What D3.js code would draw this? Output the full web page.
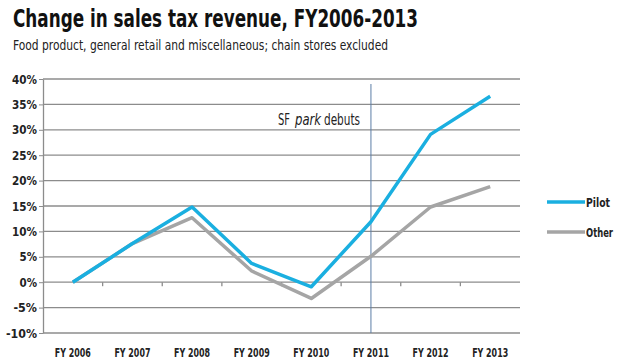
<!DOCTYPE html>
<html><head><meta charset="utf-8">
<script src="https://cdn.jsdelivr.net/npm/d3@7"></script>
<style>
body{margin:0;background:#fff;}
text{font-family:"DejaVu Sans Condensed","Liberation Sans Narrow",sans-serif;}
</style></head>
<body><svg id="c" width="620" height="362"></svg>
<script>
const categories = ["FY 2006","FY 2007","FY 2008","FY 2009","FY 2010","FY 2011","FY 2012","FY 2013"];
const pilot = [0, 7.6, 14.8, 3.7, -0.9, 11.9, 29.1, 36.6];
const other = [0, 7.6, 12.7, 2.2, -3.2, 5.1, 14.8, 18.8];
const yTicks = [-10,-5,0,5,10,15,20,25,30,35,40];
const seriesNames = ["Pilot","Other"];
const colors = ["#1aafe0","#a5a5a5"];
const markerCategory = "FY 2011";

const svg = d3.select("#c");
const L = 43, R = 520, T = 79, B = 333;
const x = d3.scaleBand().domain(categories).range([L, R]);
const y = d3.scaleLinear().domain([-10, 40]).range([B, T]);

function fit(sel, len) { sel.attr("textLength", len).attr("lengthAdjust", "spacingAndGlyphs"); return sel; }

fit(svg.append("text").attr("x", 13).attr("y", 27).attr("font-size", 25).attr("font-weight", "bold")
  .attr("fill", "#111").text("Change in sales tax revenue, FY2006-2013"), 405);
fit(svg.append("text").attr("x", 13).attr("y", 50).attr("font-size", 14).attr("fill", "#222")
  .text("Food product, general retail and miscellaneous; chain stores excluded"), 375);

// gridlines
svg.append("g").selectAll("line").data(yTicks).join("line")
  .attr("x1", L).attr("x2", R).attr("y1", d => y(d)).attr("y2", d => y(d))
  .attr("stroke", "#8c8c8c").attr("stroke-width", 1.3);

// y axis
const yAxis = d3.axisLeft(y).tickValues(yTicks).tickFormat(d => d + "%").tickSize(4).tickSizeOuter(0);
const gy = svg.append("g").attr("transform", `translate(${L},0)`).call(yAxis);
gy.select(".domain").attr("stroke", "#8c8c8c").attr("stroke-width", 1.3);
gy.selectAll(".tick line").attr("stroke", "#8c8c8c");
gy.selectAll("text").attr("font-size", 13).attr("font-weight", "bold").attr("fill", "#222")
  .attr("font-family", "'DejaVu Sans Condensed',sans-serif").attr("x", -6)
  .attr("textLength", d => { const s = String(d); const digits = s.replace("-", "").length; return digits * 7.5 + 10 + (d < 0 ? 6 : 0); })
  .attr("lengthAdjust", "spacingAndGlyphs");

// x ticks at zero line (category boundaries)
const bounds = categories.slice(1).map(c => x(c));
svg.append("g").selectAll("line").data(bounds).join("line")
  .attr("x1", d => d).attr("x2", d => d).attr("y1", y(0)).attr("y2", y(0) + 4)
  .attr("stroke", "#8c8c8c").attr("stroke-width", 1.3);

// x labels
svg.append("g").selectAll("text").data(categories).join("text")
  .attr("x", d => x(d) + x.bandwidth() / 2 - 18).attr("y", 357)
  .attr("font-size", 13).attr("font-weight", "bold").attr("fill", "#222").text(d => d)
  .attr("textLength", 36).attr("lengthAdjust", "spacingAndGlyphs");

// marker line
const mx = x(markerCategory) + x.bandwidth() / 2;
svg.append("line").attr("x1", mx).attr("x2", mx).attr("y1", 84).attr("y2", B)
  .attr("stroke", "#5b7ea6").attr("stroke-width", 1);
const annParts = [
  {t: "SF", x: 278, len: 12, italic: false},
  {t: "park", x: 295, len: 26, italic: true},
  {t: "debuts", x: 324, len: 36, italic: false}
];
svg.append("g").selectAll("text").data(annParts).join("text")
  .attr("x", d => d.x).attr("y", 125).attr("font-size", 16).attr("fill", "#222")
  .attr("font-style", d => d.italic ? "italic" : "normal").text(d => d.t)
  .attr("textLength", d => d.len).attr("lengthAdjust", "spacingAndGlyphs");

// lines
const line = d3.line().x((d, i) => x(categories[i]) + x.bandwidth() / 2).y(d => y(d));
[other, pilot].forEach((s, k) => {
  const idx = k === 0 ? 1 : 0;
  svg.append("path").attr("d", line(s)).attr("fill", "none")
    .attr("stroke", colors[idx]).attr("stroke-width", 3.5).attr("stroke-linejoin", "round");
});

// legend
seriesNames.forEach((n, i) => {
  const ly = 202 + i * 30;
  svg.append("line").attr("x1", 547).attr("x2", 585).attr("y1", ly).attr("y2", ly)
    .attr("stroke", colors[i]).attr("stroke-width", 3.5);
  svg.append("text").attr("x", i === 0 ? 610 : 613).attr("y", ly + 5).attr("text-anchor", "end")
    .attr("font-size", 12).attr("font-weight", "bold")
    .attr("fill", "#222").text(n).attr("textLength", i === 0 ? 24 : 27).attr("lengthAdjust", "spacingAndGlyphs");
});
</script></body></html>
